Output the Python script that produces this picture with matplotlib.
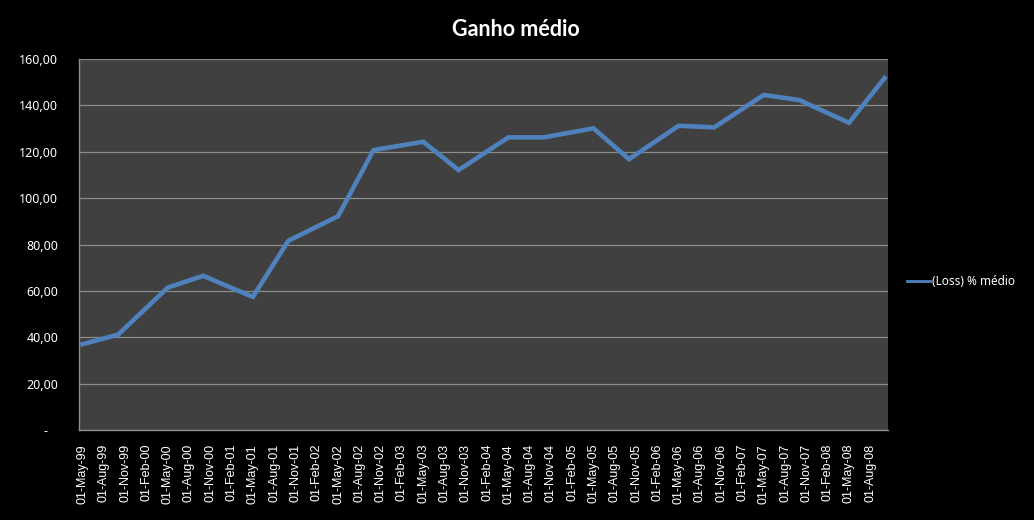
#!/usr/bin/env python3

# Load libraries
import pandas as pd
import matplotlib
matplotlib.use("Agg")
import matplotlib.pyplot as plt

# semi-annual points (May / Oct)
dates = ["1999-05", "1999-10", "2000-05", "2000-10", "2001-05", "2001-10",
         "2002-05", "2002-10", "2003-05", "2003-10", "2004-05", "2004-10",
         "2005-05", "2005-10", "2006-05", "2006-10", "2007-05", "2007-10",
         "2008-05", "2008-10"]
ganho = [37.0, 41.1, 61.4, 66.5, 57.4, 81.6, 92.2, 120.7, 124.3, 112.1,
         126.2, 126.2, 130.1, 116.8, 131.2, 130.5, 144.5, 142.3, 132.5, 151.7]

# quarterly tick labels of the date axis
tick_dates = pd.date_range("1999-05-01", "2008-08-01", freq="3MS")
tick_labels = list(tick_dates.strftime("%d-%b-%y"))

y_ticks = [0, 20, 40, 60, 80, 100, 120, 140, 160]

# month slots like an excel date axis (base unit = month)
start = pd.Period("1999-05", freq="M")
x = [(pd.Period(d, freq="M") - start).n for d in dates]
x_ticks = [(pd.Period(d, freq="M") - start).n for d in tick_dates]
last = (pd.Period("2008-10", freq="M") - start).n

plt.rcParams['font.family'] = ['Noto Sans', 'DejaVu Sans']

fig = plt.figure(figsize=(10.34, 5.2), dpi=100, facecolor="black")
ax = fig.add_axes([79 / 1034, 1 - 430 / 520, 809 / 1034, 371 / 520])
ax.set_facecolor("#404040")

ax.plot(x, ganho, color="#4F81BD", lw=3.3, solid_joinstyle="miter",
        label="(Loss) % médio")

ax.set_xlim(-0.5, last + 0.5)
ax.set_ylim(0, 160)
ax.set_xticks(x_ticks)
ax.set_xticklabels(tick_labels, rotation=90, fontsize=9, color="white",
                   family=["Liberation Sans", "DejaVu Sans"])
ax.set_yticks(y_ticks)
ax.set_yticklabels(["-   "] + ["%d,00" % v for v in y_ticks[1:]],
                   fontsize=9, color="white")
ax.tick_params(axis="x", length=0, pad=10)
ax.tick_params(axis="y", length=0, pad=15)

ax.grid(axis="y", color="#8c8c8c", lw=0.9)
ax.set_axisbelow(True)
for s in ["top", "right"]:
    ax.spines[s].set_visible(False)
for s in ["left", "bottom"]:
    ax.spines[s].set_color("#8c8c8c")
    ax.spines[s].set_linewidth(1)

fig.text(516 / 1034, 1 - 29 / 520, "Ganho médio", ha="center", va="center",
         fontsize=15.5, fontweight="bold", color="white",
         family=["Lato", "DejaVu Sans"])

leg = ax.legend(loc="center left", bbox_to_anchor=(1.01, 0.4), frameon=False,
                fontsize=8.5, handlelength=2.0, handletextpad=0.1,
                labelcolor="white")
leg.get_lines()[0].set_linewidth(2)

fig.savefig("out.png", dpi=100, facecolor="black")
